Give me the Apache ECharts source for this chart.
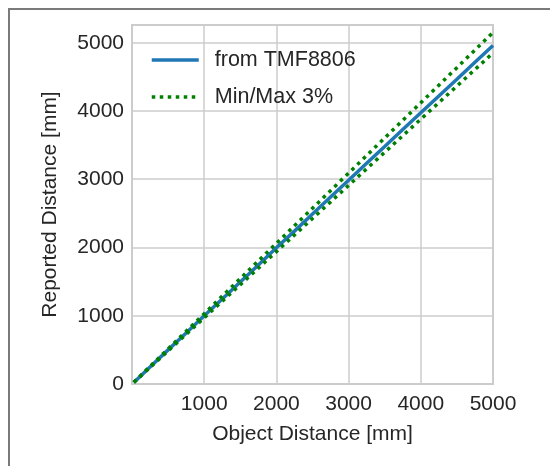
<!DOCTYPE html>
<html>
<head>
<meta charset="utf-8">
<script src="https://cdn.jsdelivr.net/npm/echarts@6/dist/echarts.min.js"></script>
<style>
html,body{margin:0;padding:0;background:#fff;}
#chart{width:550px;height:466px;}
</style>
</head>
<body>
<div id="chart"></div>
<script>
// Object distance [mm]
const objectDistance = [25, 250, 500, 750, 1000, 1250, 1500, 1750, 2000, 2250, 2500, 2750, 3000, 3250, 3500, 3750, 4000, 4250, 4500, 4750, 5000];
// Reported distance from TMF8806 [mm]
const reported = [22, 250, 500, 748, 1000, 1245, 1495, 1745, 1995, 2240, 2490, 2740, 2985, 3235, 3480, 3730, 3975, 4220, 4465, 4715, 4960];
// Max (+3%) bound [mm]
const maxBound = [26, 258, 515, 773, 1030, 1288, 1545, 1803, 2060, 2318, 2575, 2833, 3090, 3348, 3605, 3863, 4120, 4378, 4635, 4893, 5150];
// Min (-3%) bound [mm]
const minBound = [24, 243, 485, 728, 970, 1213, 1455, 1698, 1940, 2183, 2425, 2668, 2910, 3153, 3395, 3638, 3880, 4123, 4365, 4608, 4850];

const seriesNames = ['from TMF8806', 'Min/Max 3%'];
const xTitle = 'Object Distance [mm]';
const yTitle = 'Reported Distance [mm]';

const font = "'Liberation Sans', Arial, 'DejaVu Sans', sans-serif";
const textColor = '#262626';

function pairs(xs, ys){ return xs.map((x,i)=>[x, ys[i]]); }
const plain = v => String(v);

const chart = echarts.init(document.getElementById('chart'), null, {renderer:'canvas'});
chart.setOption({
  animation: false,
  backgroundColor: '#ffffff',
  textStyle: {fontFamily: font},
  grid: {left: 132, right: 57, top: 25, bottom: 82, show: true, borderColor: '#cccccc', borderWidth: 2, backgroundColor: 'transparent'},
  graphic: [{
    type: 'polyline', silent: true, z: -10,
    shape: {points: [[9, 470], [9, 9], [560, 9]]},
    style: {stroke: '#7a7a7a', lineWidth: 2, fill: null}
  }],
  legend: {
    left: 145, top: 44, orient: 'vertical',
    itemWidth: 47, itemHeight: 14, itemGap: 15,
    itemStyle: {opacity: 0, borderWidth: 0},
    lineStyle: {width: 3.5},
    textStyle: {fontSize: 21.5, color: textColor, fontFamily: font, padding: [0,0,0,11]},
    data: seriesNames
  },
  xAxis: {
    type: 'value', min: 0, max: 5000, interval: 1000,
    axisLine: {show: false}, axisTick: {show: false},
    splitLine: {show: true, lineStyle: {color: '#cccccc', width: 1.5}},
    axisLabel: {fontSize: 21, color: textColor, fontFamily: font, margin: 10, showMinLabel: false, formatter: plain},
    name: xTitle, nameLocation: 'middle', nameGap: 40,
    nameTextStyle: {fontSize: 21, color: textColor, fontFamily: font}
  },
  yAxis: {
    type: 'value', min: 0, max: 5260, interval: 1000,
    axisLine: {show: false}, axisTick: {show: false},
    splitLine: {show: true, lineStyle: {color: '#cccccc', width: 1.5}},
    axisLabel: {fontSize: 21, color: textColor, fontFamily: font, margin: 8, showMaxLabel: false, formatter: plain},
    name: yTitle, nameLocation: 'middle', nameGap: 71,
    nameTextStyle: {fontSize: 21, color: textColor, fontFamily: font}
  },
  series: [
    {
      name: seriesNames[0], type: 'line', data: pairs(objectDistance, reported),
      symbol: 'none', showSymbol: false, z: 3,
      lineStyle: {color: '#1f77b4', width: 3.5},
      itemStyle: {color: '#1f77b4'}
    },
    {
      name: seriesNames[1], type: 'line', data: pairs(objectDistance, maxBound),
      symbol: 'none', showSymbol: false, z: 4,
      lineStyle: {color: '#008000', width: 3.5, type: [3.5, 4.5], cap: 'butt'},
      itemStyle: {color: '#008000'}
    },
    {
      name: seriesNames[1], type: 'line', data: pairs(objectDistance, minBound),
      symbol: 'none', showSymbol: false, z: 4,
      lineStyle: {color: '#008000', width: 3.5, type: [3.5, 4.5], cap: 'butt'},
      itemStyle: {color: '#008000'}
    }
  ]
});
</script>
</body>
</html>
